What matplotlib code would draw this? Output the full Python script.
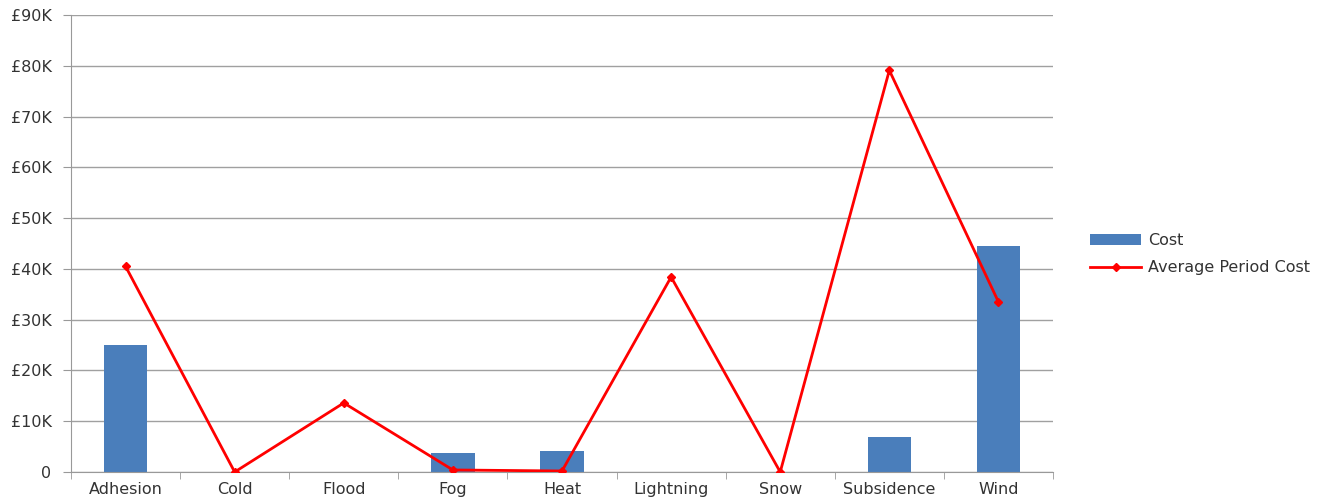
import matplotlib
matplotlib.use("Agg")
import matplotlib.pyplot as plt
import numpy as np

categories = ["Adhesion", "Cold", "Flood", "Fog", "Heat", "Lightning", "Snow", "Subsidence", "Wind"]
cost = [25000, 0, 0, 3700, 4100, 0, 0, 6900, 44500]
avg_period_cost = [40500, 0, 13600, 400, 200, 38400, 0, 79100, 33500]
yticks = [0, 10000, 20000, 30000, 40000, 50000, 60000, 70000, 80000, 90000]
ytick_labels = ["0", "£10K", "£20K", "£30K", "£40K", "£50K", "£60K", "£70K", "£80K", "£90K"]

plt.rcParams['font.family'] = ['DejaVu Sans']
fig = plt.figure(figsize=(13.4, 5.01), dpi=100)
ax = fig.add_axes([71/1340, 29/501, (1053-71)/1340, (472-15)/501])

x = np.arange(len(categories))
bars = ax.bar(x, cost, width=0.4, color="#4a7ebb", label="Cost", zorder=2)
line, = ax.plot(x, avg_period_cost, color="#ff0000", lw=2, marker="D", markersize=4,
                label="Average Period Cost", zorder=3)

ax.set_xlim(-0.5, len(categories) - 0.5)
ax.set_ylim(0, 90000)
ax.set_yticks(yticks)
ax.set_yticklabels(ytick_labels)
ax.set_xticks(x)
ax.set_xticklabels(categories)
ax.set_xticks(np.arange(-0.5, len(categories)), minor=True)
ax.tick_params(axis="x", which="major", length=0, labelsize=11.5, colors="#333333", pad=7)
ax.tick_params(axis="x", which="minor", length=5, color="#999999")
ax.tick_params(axis="y", length=6, color="#999999", labelsize=11.5, labelcolor="#333333", pad=8)
ax.grid(axis="y", color="#a0a0a0", lw=1, zorder=0)
for s in ["top", "right"]:
    ax.spines[s].set_visible(False)
ax.spines["left"].set_color("#999999")
ax.spines["bottom"].set_color("#999999")

leg = fig.legend([bars, line], ["Cost", "Average Period Cost"], loc="upper left",
                 bbox_to_anchor=(1076/1340, 1 - 219/501), frameon=False,
                 fontsize=11.5, handlelength=3.2, labelspacing=0.75, handletextpad=0.4)
for t in leg.get_texts():
    t.set_color("#333333")
fig.savefig("out.png", dpi=100)
